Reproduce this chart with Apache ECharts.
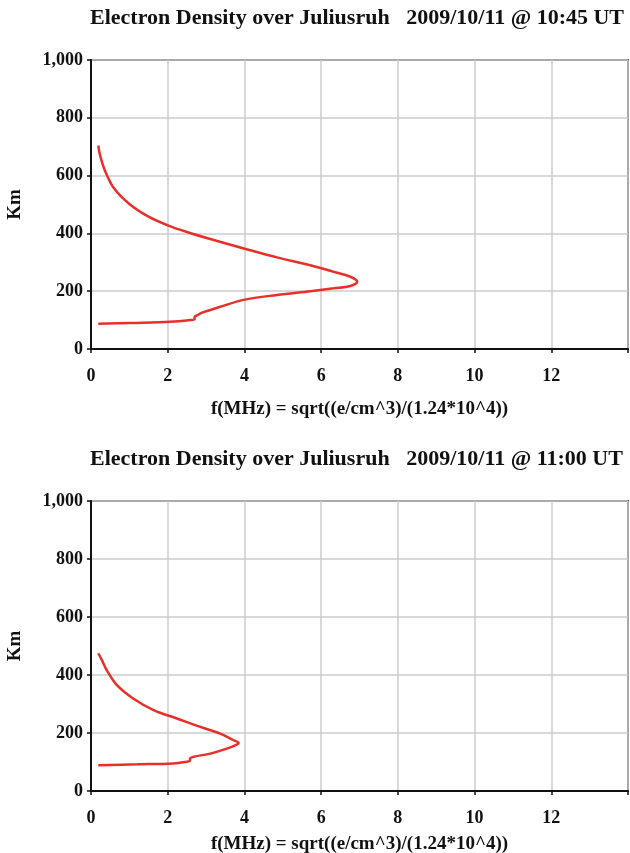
<!DOCTYPE html>
<html>
<head>
<meta charset="utf-8">
<script src="https://cdn.jsdelivr.net/npm/echarts@6/dist/echarts.min.js"></script>
<style>
  html, body { margin: 0; padding: 0; background: #fff; }
  #chart { width: 630px; height: 853px; }
</style>
</head>
<body>
<div id="chart"></div>
<script>
// Profile at 10:45 UT: plasma frequency (MHz) vs height (km)
const freq1045 = [0.19, 1.0, 2.06, 2.59, 2.70, 2.70, 2.78, 2.88, 3.37, 3.98, 4.85, 5.72, 6.33, 6.76, 6.94, 6.76, 6.33, 5.72, 4.85, 3.98, 3.2, 2.5, 2.0, 1.5, 1.0, 0.6, 0.37, 0.24, 0.19];
const height1045 = [87, 90, 94, 100, 103, 111, 117, 125, 146, 170, 187, 200, 210, 218, 233, 250, 267, 290, 317, 348, 377, 405, 428, 458, 502, 556, 615, 668, 704];

// Profile at 11:00 UT
const freq1100 = [0.19, 1.2, 2.15, 2.5, 2.58, 2.58, 2.68, 3.11, 3.54, 3.80, 3.85, 3.72, 3.37, 2.85, 2.24, 1.63, 1.1, 0.67, 0.41, 0.28, 0.19];
const height1100 = [89, 92, 95, 101, 104, 111, 118, 129, 146, 160, 166, 175, 198, 221, 250, 279, 319, 366, 417, 452, 475];

// Axis ticks
const xTicks = [0, 2, 4, 6, 8, 10, 12];
const yTicks = [0, 200, 400, 600, 800, 1000];

const titles = [
  'Electron Density over Juliusruh   2009/10/11 @ 10:45 UT',
  'Electron Density over Juliusruh   2009/10/11 @ 11:00 UT'
];
const xName = 'f(MHz) = sqrt((e/cm^3)/(1.24*10^4))';
const yName = 'Km';

const FONT = '"Liberation Serif", serif';
const LINE_RED = '#e8302b';

const pairs = (xs, ys) => xs.map((x, i) => [x, ys[i]]);

const grids = [
  { left: 91, top: 60, width: 537, height: 289 },
  { left: 91, top: 501, width: 537, height: 290 }
];
// distance of the x-axis title below each plot
const xNameGaps = [51, 44];

function xAxisFor(i) {
  return {
    gridIndex: i, type: 'value', min: 0, max: 14, interval: 2,
    name: xName, nameLocation: 'middle', nameGap: xNameGaps[i],
    nameTextStyle: { fontFamily: FONT, fontWeight: 'bold', fontSize: 19, color: '#111' },
    axisLine: { onZero: false, lineStyle: { color: '#111', width: 2 } },
    axisTick: { show: true, length: 4, lineStyle: { color: '#111', width: 1.5 } },
    axisLabel: {
      fontFamily: FONT, fontWeight: 'bold', fontSize: 18, color: '#111', margin: 18,
      formatter: v => (xTicks.indexOf(v) >= 0 ? String(v) : '')
    },
    splitLine: { show: true, lineStyle: { color: '#cccccc', width: 1.5 } }
  };
}

function yAxisFor(i) {
  return {
    gridIndex: i, type: 'value', min: 0, max: 1000, interval: 200,
    name: yName, nameLocation: 'middle', nameGap: 66, nameRotate: 90,
    nameTextStyle: { fontFamily: FONT, fontWeight: 'bold', fontSize: 19, color: '#111' },
    axisLine: { onZero: false, lineStyle: { color: '#111', width: 2 } },
    axisTick: { show: true, length: 4, lineStyle: { color: '#111', width: 1.5 } },
    axisLabel: {
      fontFamily: FONT, fontWeight: 'bold', fontSize: 18, color: '#111', margin: 8,
      formatter: v => (yTicks.indexOf(v) >= 0 ? v.toLocaleString('en-US') : '')
    },
    splitLine: { show: true, lineStyle: { color: '#cccccc', width: 1.5 } }
  };
}

const chart = echarts.init(document.getElementById('chart'), null, { renderer: 'canvas' });

chart.setOption({
  backgroundColor: '#ffffff',
  animation: false,
  title: titles.map((t, i) => ({
    text: t,
    left: 90, top: i === 0 ? 7 : 448,
    padding: 0,
    textStyle: { fontFamily: FONT, fontWeight: 'bold', fontSize: 22, color: '#111' }
  })),
  // fixed plot rectangles; labels are allowed to sit near the page edge
  grid: grids.map(g => Object.assign({}, g, {
    show: true, borderColor: '#444', borderWidth: 2, backgroundColor: 'transparent',
    containLabel: false, outerBoundsMode: 'none'
  })),
  xAxis: [xAxisFor(0), xAxisFor(1)],
  yAxis: [yAxisFor(0), yAxisFor(1)],
  series: [
    {
      type: 'line', xAxisIndex: 0, yAxisIndex: 0,
      data: pairs(freq1045, height1045),
      showSymbol: false, smooth: 0.35,
      lineStyle: { color: LINE_RED, width: 2.5 }
    },
    {
      type: 'line', xAxisIndex: 1, yAxisIndex: 1,
      data: pairs(freq1100, height1100),
      showSymbol: false, smooth: 0.35,
      lineStyle: { color: LINE_RED, width: 2.5 }
    }
  ]
});
</script>
</body>
</html>
